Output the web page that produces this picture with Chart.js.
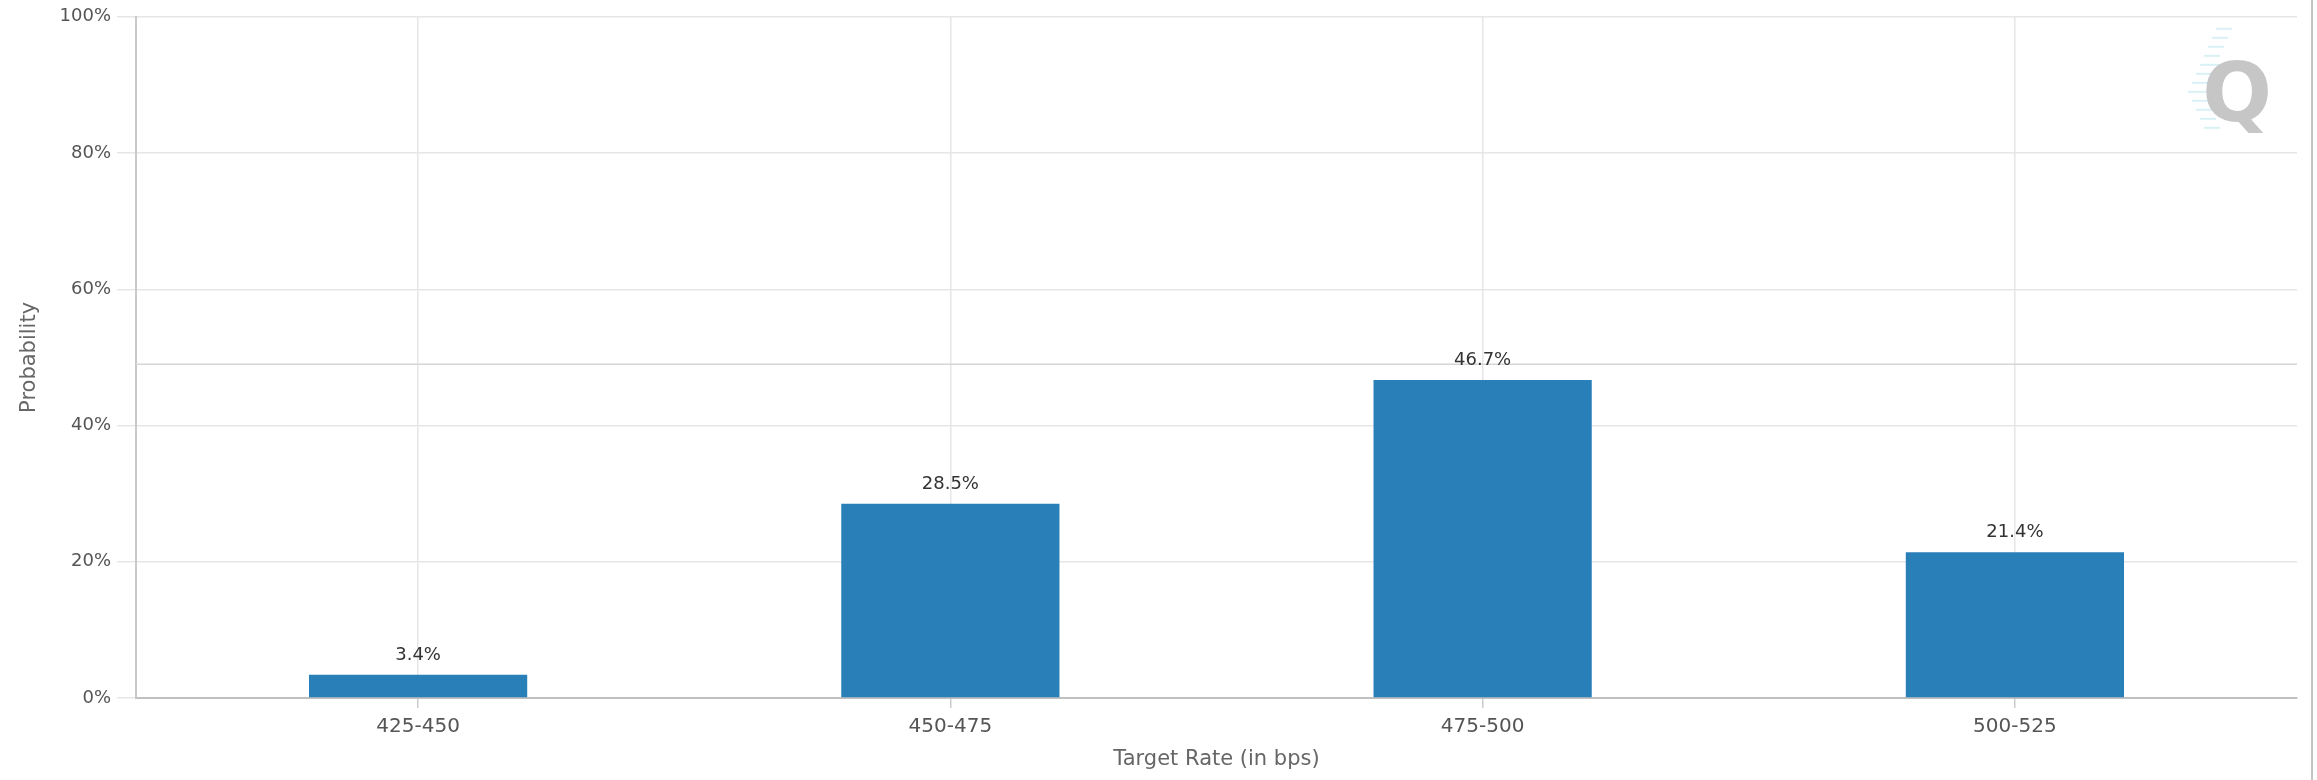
<!DOCTYPE html>
<html>
<head>
<meta charset="utf-8">
<script src="https://cdn.jsdelivr.net/npm/chart.js@4.4.0/dist/chart.umd.min.js"></script>
<style>
    html, body { margin: 0; padding: 0; background: #fff; }
    #wrap { position: relative; width: 2317px; height: 780px; }
    #frame { position: absolute; left: 2311px; top: 0; width: 2px; height: 780px; background: #c4c4c4; }
</style>
</head>
<body>
<div id="wrap">
    <canvas id="barChart" width="2317" height="780"></canvas>
    <div id="frame"></div>
</div>
<script>
// Data
const categories = ['425-450', '450-475', '475-500', '500-525'];
const probabilities = [3.4, 28.5, 46.7, 21.4];
const yTickStep = 20;
const yMax = 100;
const referenceLine = 49; // the slightly darker horizontal line
const xPad = 0.53;        // extra room left/right of the outer categories

// value labels above each bar + reference line + watermark
const extrasPlugin = {
    id: 'extras',
    beforeDatasetsDraw(chart) {
        const ctx = chart.ctx;
        const y = chart.scales.y.getPixelForValue(referenceLine);
        ctx.save();
        ctx.strokeStyle = '#d6d6d6';
        ctx.lineWidth = 1.5;
        ctx.beginPath();
        ctx.moveTo(chart.chartArea.left, y);
        ctx.lineTo(chart.chartArea.right, y);
        ctx.stroke();

        // faint "Q" watermark, top right
        const qx = chart.chartArea.right - 25;
        const qy = chart.chartArea.top + 104;
        ctx.strokeStyle = '#d9f1f5';
        ctx.lineWidth = 2;
        for (let i = 0; i < 12; i++) {
            const yy = qy - 92 + i * 9;
            const len = 10 + (i > 3 && i < 9 ? 18 : 6);
            const xx = qx - 84 + Math.abs(i - 7) * 4;
            ctx.beginPath();
            ctx.moveTo(xx, yy);
            ctx.lineTo(xx + len, yy);
            ctx.stroke();
        }
        ctx.fillStyle = '#c6c6c6';
        ctx.font = 'bold 82px "DejaVu Sans"';
        ctx.textAlign = 'right';
        ctx.textBaseline = 'alphabetic';
        ctx.fillText('Q', qx, qy);
        ctx.restore();
    },
    afterDatasetsDraw(chart) {
        const ctx = chart.ctx;
        const meta = chart.getDatasetMeta(0);
        ctx.save();
        ctx.fillStyle = '#333333';
        ctx.font = '18px "DejaVu Sans"';
        ctx.textAlign = 'center';
        ctx.textBaseline = 'alphabetic';
        meta.data.forEach(function (bar, i) {
            ctx.fillText(probabilities[i].toFixed(1) + '%', bar.x, bar.y - 15);
        });
        ctx.restore();
    }
};

const barChartCtx = document.getElementById('barChart').getContext('2d');
const barChart = new Chart(barChartCtx, {
    type: 'bar',
    data: {
        datasets: [{
            label: 'Probability',
            data: probabilities.map((v, i) => ({ x: i, y: v })),
            backgroundColor: '#2980b9',
            borderWidth: 0,
            categoryPercentage: 1,
            barPercentage: 0.41
        }]
    },
    plugins: [extrasPlugin],
    options: {
        responsive: false,
        animation: false,
        devicePixelRatio: 1,
        layout: { padding: { top: 11, right: 20, left: 0, bottom: 0 } },
        plugins: {
            legend: { display: false },
            tooltip: { enabled: false }
        },
        scales: {
            x: {
                type: 'linear',
                offset: false,
                min: -xPad,
                max: categories.length - 1 + xPad,
                afterBuildTicks(scale) {
                    scale.ticks = categories.map((c, i) => ({ value: i }));
                },
                grid: {
                    offset: false,
                    color: '#e6e6e6',
                    tickColor: '#cccccc',
                    tickLength: 10,
                    lineWidth: 1.5
                },
                border: { color: '#c0c0c0', width: 2 },
                ticks: {
                    color: '#555555',
                    font: { family: 'DejaVu Sans', size: 20 },
                    padding: 7,
                    maxRotation: 0,
                    callback: function (v) { return categories[v]; }
                },
                title: {
                    display: true,
                    text: 'Target Rate (in bps)',
                    color: '#666666',
                    font: { family: 'DejaVu Sans', size: 21 },
                    padding: { top: 0, bottom: 8 }
                },
                afterFit(scale) { scale.height = 82; }
            },
            y: {
                min: 0,
                max: yMax,
                ticks: {
                    stepSize: yTickStep,
                    color: '#555555',
                    font: { family: 'DejaVu Sans', size: 18 },
                    padding: 6,
                    callback: function (v) { return v + '%'; }
                },
                grid: {
                    color: '#e6e6e6',
                    tickColor: '#e6e6e6',
                    tickLength: 19,
                    lineWidth: 1.5
                },
                border: { color: '#c8c8c8', width: 2 },
                title: {
                    display: true,
                    text: 'Probability',
                    color: '#666666',
                    font: { family: 'DejaVu Sans', size: 21 },
                    padding: { top: 17, bottom: 0 }
                },
                afterFit(scale) { scale.width = 136; }
            }
        }
    }
});
</script>
</body>
</html>
